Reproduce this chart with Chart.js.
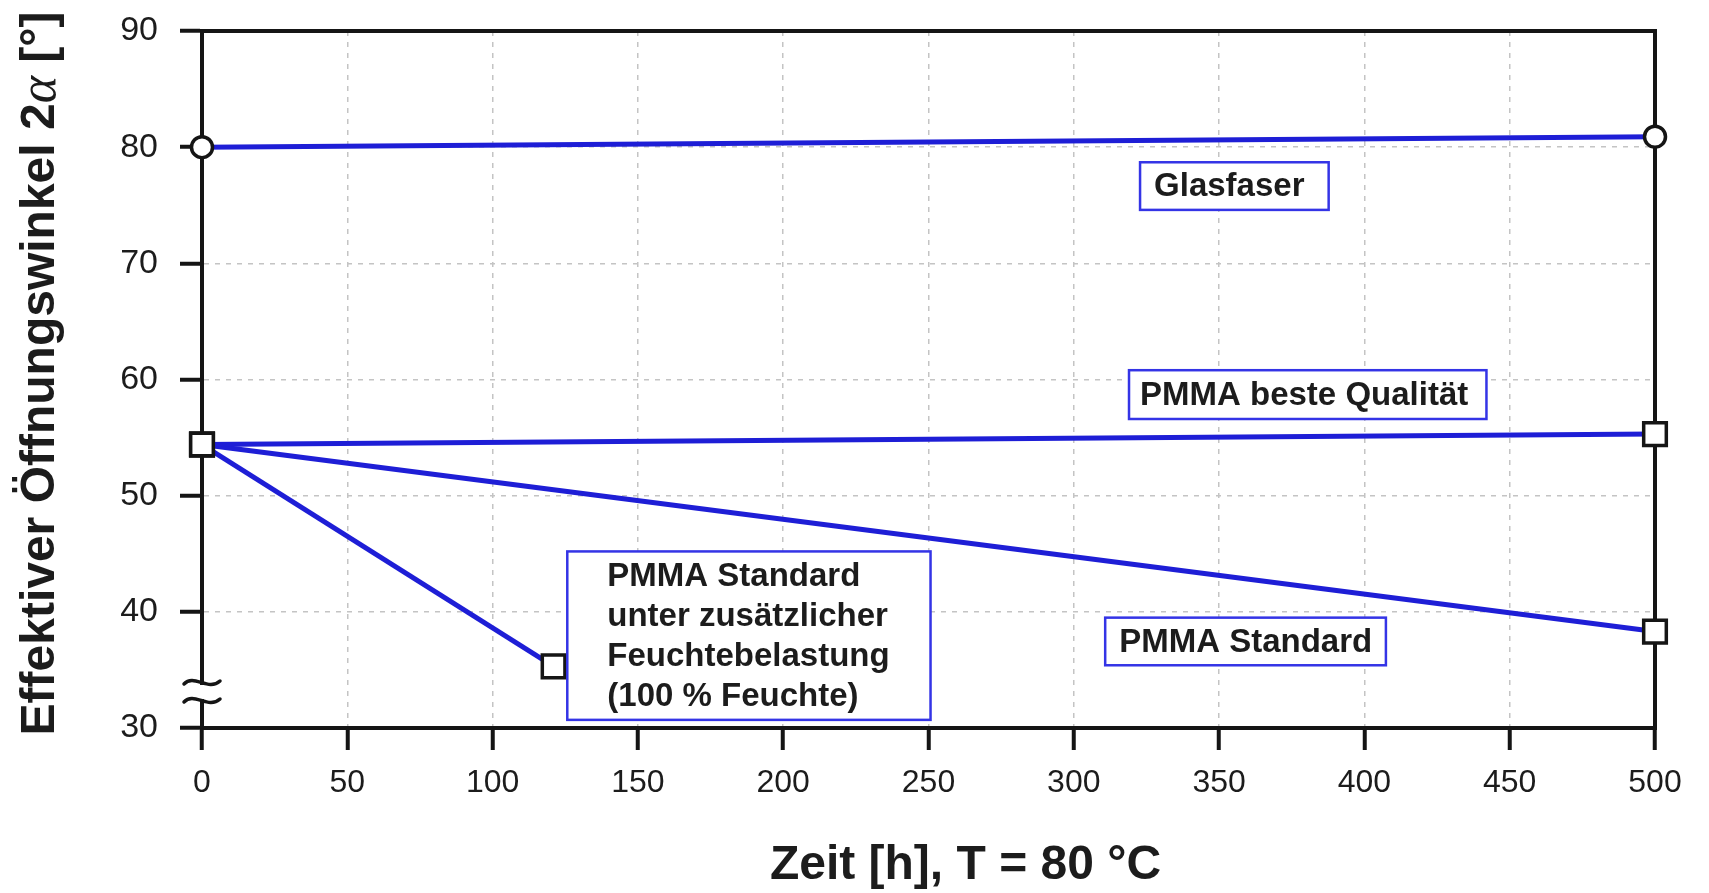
<!DOCTYPE html>
<html>
<head>
<meta charset="utf-8">
<script src="https://cdn.jsdelivr.net/npm/chart.js@4.4.0/dist/chart.umd.min.js"></script>
<style>
  html, body { margin: 0; padding: 0; background: #fff; }
</style>
</head>
<body>
<canvas id="chart" width="1709" height="893"></canvas>
<script>
// Messwerte (Zeit in h, Öffnungswinkel in Grad)
const glasfaserTime = [0, 500];
const glasfaserAngle = [80.0, 80.9];
const besteTime = [0, 500];
const besteAngle = [54.4, 55.3];
const standardTime = [0, 500];
const standardAngle = [54.4, 38.3];
const feuchteTime = [0, 121];
const feuchteAngle = [54.4, 35.3];

const xTitle = 'Zeit [h], T = 80 °C';
// y-Titel in Stücken, damit das α kursiv gesetzt werden kann
const yTitleParts = ['Effektiver Öffnungswinkel 2', 'α', ' [°]'];

// Beschriftungskästen, Lage in Achsenwerten
const noteBoxes = [
    { lines: ['Glasfaser'], x1: 322.8, x2: 387.7, y1: 78.7, y2: 74.6, pad: 14 },
    { lines: ['PMMA beste Qualität'], x1: 319.0, x2: 442.0, y1: 60.8, y2: 56.6, pad: 11 },
    { lines: ['PMMA Standard'], x1: 310.8, x2: 407.4, y1: 39.5, y2: 35.4, pad: 14 },
    { lines: ['PMMA Standard', 'unter zusätzlicher', 'Feuchtebelastung', '(100 % Feuchte)'],
      x1: 125.7, x2: 250.7, y1: 45.2, y2: 30.7, pad: 40, step: 40 }
];

const FONT = '"Liberation Sans", Arial, Helvetica, sans-serif';
const LINE_BLUE = '#1e1ed6';
const INK = '#151515';
const TEXT = '#1c1c1c';

function toPoints(xs, ys) {
    return xs.map((x, i) => ({ x: x, y: ys[i] }));
}

function series(label, xs, ys, style) {
    return {
        label: label,
        data: toPoints(xs, ys),
        borderColor: LINE_BLUE,
        borderWidth: 5,
        pointStyle: style,
        pointRadius: style === 'circle' ? 10.5 : 16,
        pointBackgroundColor: '#fff',
        pointBorderColor: INK,
        pointBorderWidth: 3.5,
        tension: 0,
        clip: false
    };
}

// Rahmen oben/rechts, Achsenbruch, Achsentitel und Textkästen
const framePlugin = {
    id: 'frame',
    beforeDatasetsDraw(chart) {
        const { ctx, chartArea: a, scales } = chart;
        ctx.save();
        ctx.strokeStyle = INK;
        ctx.lineWidth = 4;
        ctx.lineCap = 'square';
        ctx.beginPath();
        ctx.moveTo(a.left, a.top);
        ctx.lineTo(a.right, a.top);
        ctx.lineTo(a.right, a.bottom);
        ctx.stroke();

        // Achsenbruch
        const bx = a.left;
        const by = scales.y.getPixelForValue(33.1);
        ctx.lineWidth = 3.5;
        ctx.lineCap = 'round';
        ctx.fillStyle = '#fff';
        ctx.fillRect(bx - 4, by - 7, 8, 14);
        [-9, 9].forEach(off => {
            ctx.beginPath();
            ctx.moveTo(bx - 18, by + off + 1);
            ctx.bezierCurveTo(bx - 8, by + off - 10, bx + 6, by + off + 9, bx + 18, by + off - 2);
            ctx.stroke();
        });

        // x-Titel
        ctx.fillStyle = TEXT;
        ctx.font = 'bold 48px ' + FONT;
        ctx.textAlign = 'center';
        ctx.textBaseline = 'middle';
        ctx.fillText(xTitle, (a.left + a.right) / 2 + 37, chart.height - 27);

        // y-Titel, gedreht
        const fonts = ['bold 48px ' + FONT, 'italic 52px "Liberation Serif", "DejaVu Serif", serif', 'bold 48px ' + FONT];
        const widths = yTitleParts.map((t, i) => { ctx.font = fonts[i]; return ctx.measureText(t).width; });
        const total = widths.reduce((s, w) => s + w, 0);
        ctx.translate(41, (a.top + a.bottom) / 2 - 6);
        ctx.rotate(-Math.PI / 2);
        ctx.textAlign = 'left';
        let cx = -total / 2;
        yTitleParts.forEach((t, i) => {
            ctx.font = fonts[i];
            ctx.fillText(t, cx, 0);
            cx += widths[i];
        });
        ctx.restore();
    },
    afterDatasetsDraw(chart) {
        const { ctx, scales } = chart;
        ctx.save();
        ctx.font = 'bold 33px ' + FONT;
        ctx.textBaseline = 'middle';
        ctx.textAlign = 'left';
        noteBoxes.forEach(b => {
            const left = scales.x.getPixelForValue(b.x1);
            const right = scales.x.getPixelForValue(b.x2);
            const top = scales.y.getPixelForValue(b.y1);
            const bottom = scales.y.getPixelForValue(b.y2);
            ctx.fillStyle = '#fff';
            ctx.fillRect(left, top, right - left, bottom - top);
            ctx.strokeStyle = '#3434e6';
            ctx.lineWidth = 2.5;
            ctx.strokeRect(left, top, right - left, bottom - top);
            ctx.fillStyle = TEXT;
            const step = b.step || (bottom - top) / b.lines.length;
            const y0 = (top + bottom) / 2 - step * b.lines.length / 2;
            b.lines.forEach((t, i) => {
                ctx.fillText(t, left + b.pad, y0 + step * (i + 0.5) + 1);
            });
        });
        ctx.restore();
    }
};

const gridOpts = {
    color: '#c4c4c4',
    lineWidth: 1.5,
    tickColor: INK,
    tickWidth: 4,
    tickLength: 22,
    tickBorderDash: []
};

new Chart(document.getElementById('chart'), {
    type: 'line',
    data: {
        datasets: [
            series('Glasfaser', glasfaserTime, glasfaserAngle, 'circle'),
            series('PMMA beste Qualität', besteTime, besteAngle, 'rect'),
            series('PMMA Standard', standardTime, standardAngle, 'rect'),
            series('PMMA Standard (100 % Feuchte)', feuchteTime, feuchteAngle, 'rect')
        ]
    },
    options: {
        responsive: false,
        animation: false,
        layout: { padding: { left: 0, right: 54, top: 31, bottom: 0 } },
        plugins: {
            legend: { display: false },
            tooltip: { enabled: false }
        },
        scales: {
            x: {
                type: 'linear',
                min: 0,
                max: 500,
                afterFit(scale) {
                    scale.height = 165;
                    scale.paddingLeft = 0;
                    scale.paddingRight = 0;
                },
                ticks: {
                    stepSize: 50,
                    padding: 14,
                    color: TEXT,
                    font: { family: FONT, size: 32 }
                },
                grid: gridOpts,
                border: { color: INK, width: 4, dash: [5, 6] }
            },
            y: {
                min: 30,
                max: 90,
                afterFit(scale) {
                    scale.width = 202;
                    scale.paddingTop = 0;
                    scale.paddingBottom = 0;
                },
                ticks: {
                    stepSize: 10,
                    padding: 22,
                    color: TEXT,
                    font: { family: FONT, size: 34 }
                },
                grid: gridOpts,
                border: { color: INK, width: 4, dash: [5, 6] }
            }
        }
    },
    plugins: [framePlugin]
});
</script>
</body>
</html>
